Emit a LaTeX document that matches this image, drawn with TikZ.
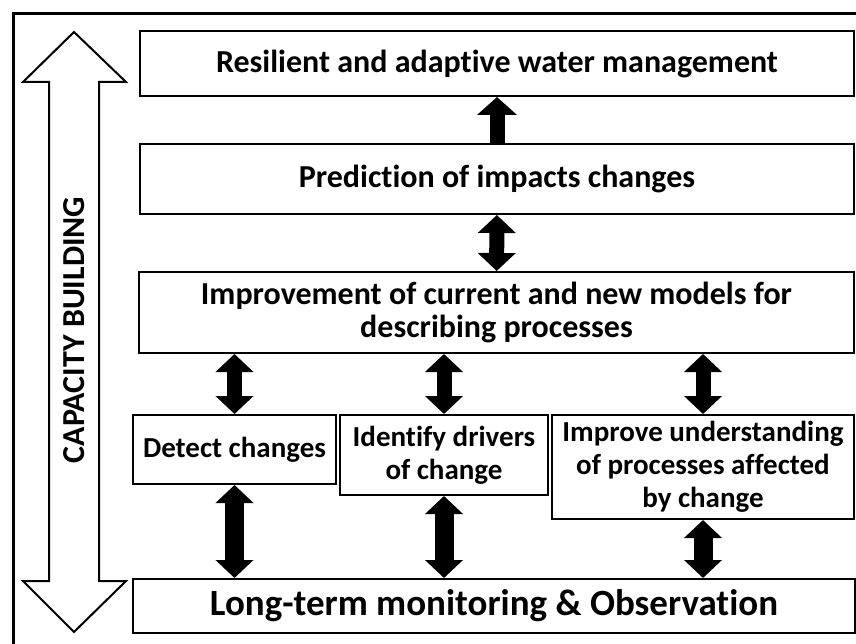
\documentclass[tikz,border=0pt]{standalone}
\usepackage{fontspec}
\setmainfont{Carlito}[Ligatures=CommonOff]
\usetikzlibrary{arrows.meta,positioning}

\begin{document}
\begin{tikzpicture}[x=1pt,y=-1pt,font=\bfseries,
  box/.style={draw,line width=2pt,inner sep=0pt,align=center,anchor=north west},
  big/.style={font=\bfseries\fontsize{32}{33}\selectfont},
  small/.style={font=\bfseries\fontsize{29}{33}\selectfont},
  fat/.style={line width=15pt,-{Triangle[length=18pt,width=39pt]}},
  fatboth/.style={line width=15pt,{Triangle[length=18pt,width=37pt]}-{Triangle[length=18pt,width=37pt]}}]

\useasboundingbox (0,0) rectangle (856,644);

% frame
\draw[line width=3pt] (13,644) -- (13,14) -- (856,14);

% capacity building arrow
\draw[line width=2pt] (74,32) -- (126,82) -- (99,82) -- (99,581) -- (126,581) -- (74,632)
  -- (23,581) -- (49,581) -- (49,82) -- (23,82) -- cycle;
\node[rotate=90,font=\bfseries\fontsize{32}{34}\selectfont] (cap) at (74,330) {CAPACITY BUILDING};

% boxes
\node[box,big,minimum width=714pt,minimum height=65pt] (goal) at (139,30)
  {Resilient and adaptive water management};
\node[box,big,minimum width=714pt,minimum height=70pt] (pred) at (139,143)
  {Prediction of impacts changes};
\node[box,big,minimum width=715pt,minimum height=81pt] (models) at (138,271)
  {Improvement of current and new models for\\describing processes};
\node[box,small,minimum width=203pt,minimum height=69pt] (detect) at (132,414)
  {Detect changes};
\node[box,small,minimum width=208pt,minimum height=80pt] (drivers) at (339,414)
  {Identify drivers\\of change};
\node[box,small,minimum width=302pt,minimum height=104pt] (understand) at (551,414)
  {Improve understanding\\of processes affected\\by change};
\node[box,font=\bfseries\fontsize{37}{40}\selectfont,minimum width=722pt,minimum height=54pt] (obs) at (132,578)
  {Long-term monitoring \& Observation};

% arrows
\draw[fat] (pred) -- (goal);
\draw[fatboth] (models) -- (pred);
\foreach \b in {detect,drivers,understand}
  \draw[fatboth] (models.south -| \b) -- (\b);
\foreach \b in {detect,drivers,understand}
  \draw[fatboth,line width=19pt] (\b) -- (\b |- obs.north);

\end{tikzpicture}
\end{document}
